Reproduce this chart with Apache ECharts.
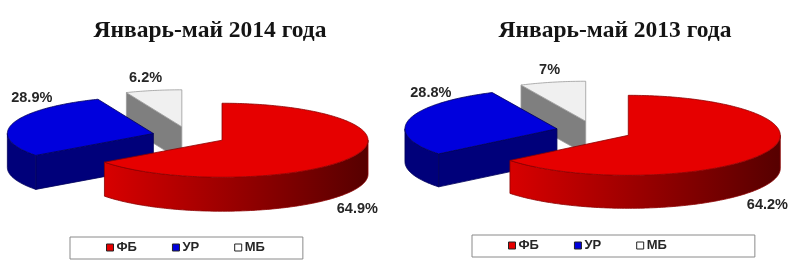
<!DOCTYPE html>
<html><head><meta charset="utf-8">
<script src="https://cdn.jsdelivr.net/npm/echarts@6/dist/echarts.min.js"></script>
<style>html,body{margin:0;padding:0;background:#fff}#c{width:800px;height:279px}</style>
</head><body><div id="c"></div>
<script>
// ---- data ----
const categories = ['ФБ', 'УР', 'МБ'];
const titles = ['Январь-май 2014 года', 'Январь-май 2013 года'];
const values2014 = [64.9, 28.9, 6.2];
const values2013 = [64.2, 28.8, 7];

// ---- styling / layout ----
const legendColors = ['#e60000', '#0000dd', '#ffffff'];
const topColors = ['#e60000', '#0000dd', '#f0f0f0'];
const strokeColors = ['#8c0000', '#00005a', '#9a9a9a'];
const cutColors = ['#a00000', '#00007a', '#7f7f7f'];
const sideColors = [
  {type: 'linear', x: 0, y: 0, x2: 1, y2: 0, colorStops: [{offset: 0, color: '#d80000'}, {offset: 1, color: '#560000'}]},
  '#00007a',
  '#7f7f7f'
];
const pies = [
  {values: values2014, title: titles[0], cx: 189, cy: 136, rx: 146, ry: 37, depth: 34, explode: 37,
   titleX: 210, legendLeft: 70, legendTop: 237, legendPad: [4, 38, 5, 36],
   labelOffsets: [[5, 52], [19, -25], [-8, -13]]},
  {values: values2013, title: titles[1], cx: 594, cy: 131, rx: 152, ry: 40, depth: 33, explode: 38,
   titleX: 615, legendLeft: 472, legendTop: 235, legendPad: [4, 88, 5, 36],
   labelOffsets: [[2, 52], [22, -27], [-3, -12]]}
];

function poly(points, fill, z2, stroke) {
  return {type: 'polygon', z2: z2, shape: {points: points},
    style: {fill: fill, stroke: stroke || fill, lineWidth: stroke ? 0.8 : 0.5}};
}

function render(pie, k) {
  return function (params, api) {
    const v = api.value(0);
    const vals = pie.values;
    const total = vals.reduce((a, b) => a + b, 0);
    let before = 0;
    for (let i = 0; i < k; i++) before += vals[i];
    const a0 = before / total * 2 * Math.PI;
    const a1 = (before + v) / total * 2 * Math.PI;
    const am = (a0 + a1) / 2;
    const ratio = pie.ry / pie.rx;
    const cx = pie.cx + pie.explode * Math.sin(am);
    const cy = pie.cy - pie.explode * ratio * Math.cos(am);
    const d = pie.depth;
    const P = (a, dz) => [cx + pie.rx * Math.sin(a), cy - pie.ry * Math.cos(a) + (dz || 0)];
    const arc = (s, e, dz) => {
      const n = Math.max(2, Math.ceil((e - s) / (Math.PI / 180)));
      const pts = [];
      for (let i = 0; i <= n; i++) pts.push(P(s + (e - s) * i / n, dz));
      return pts;
    };
    const base = Math.round(cy * 10) * 4;
    const children = [];
    if (Math.sin(a0) < -1e-6) children.push(poly([[cx, cy], P(a0), P(a0, d), [cx, cy + d]], cutColors[k], base, strokeColors[k]));
    if (Math.sin(a1) > 1e-6) children.push(poly([[cx, cy], P(a1), P(a1, d), [cx, cy + d]], cutColors[k], base, strokeColors[k]));
    [[Math.PI / 2, 3 * Math.PI / 2], [5 * Math.PI / 2, 7 * Math.PI / 2]].forEach(function (r) {
      const s = Math.max(a0, r[0]), e = Math.min(a1, r[1]);
      if (e > s) {
        const pts = arc(s, e, 0).concat(arc(s, e, d).reverse());
        children.push(poly(pts, sideColors[k], base + 1, strokeColors[k]));
      }
    });
    children.push(poly([[cx, cy]].concat(arc(a0, a1, 0)), topColors[k], base + 2, strokeColors[k]));
    const lp = P(am);
    const off = pie.labelOffsets[k];
    children.push({type: 'text', z2: 100000, style: {
      text: v + '%', x: lp[0] + off[0], y: lp[1] + off[1], align: 'center', verticalAlign: 'middle',
      fontFamily: 'Liberation Sans', fontWeight: 'bold', fontSize: 14.5, fill: '#262626'}});
    return {type: 'group', children: children};
  };
}

const chart = echarts.init(document.getElementById('c'), null, {renderer: 'canvas'});
chart.setOption({
  animation: false,
  backgroundColor: '#ffffff',
  title: pies.map(pie => ({
    text: pie.title, left: pie.titleX, top: 19, textAlign: 'center', padding: 0,
    textStyle: {fontFamily: 'Liberation Serif', fontWeight: 'bold', fontSize: 23.5, color: '#141414'}
  })),
  legend: pies.map(pie => ({
    data: categories, left: pie.legendLeft, top: pie.legendTop, padding: pie.legendPad,
    orient: 'horizontal', itemGap: 35, itemWidth: 7, itemHeight: 7, icon: 'rect',
    selectedMode: false, borderColor: '#8a8a8a', borderWidth: 1,
    itemStyle: {borderColor: '#222', borderWidth: 1},
    textStyle: {fontFamily: 'Liberation Sans', fontWeight: 'bold', fontSize: 13, color: '#262626', padding: [0, 0, 0, -2]}
  })),
  series: pies.flatMap(pie => categories.map((name, k) => ({
    type: 'custom', name: name, coordinateSystem: 'none', silent: true,
    itemStyle: {color: legendColors[k]},
    renderItem: render(pie, k),
    data: [[pie.values[k]]]
  })))
});
</script>
</body></html>
